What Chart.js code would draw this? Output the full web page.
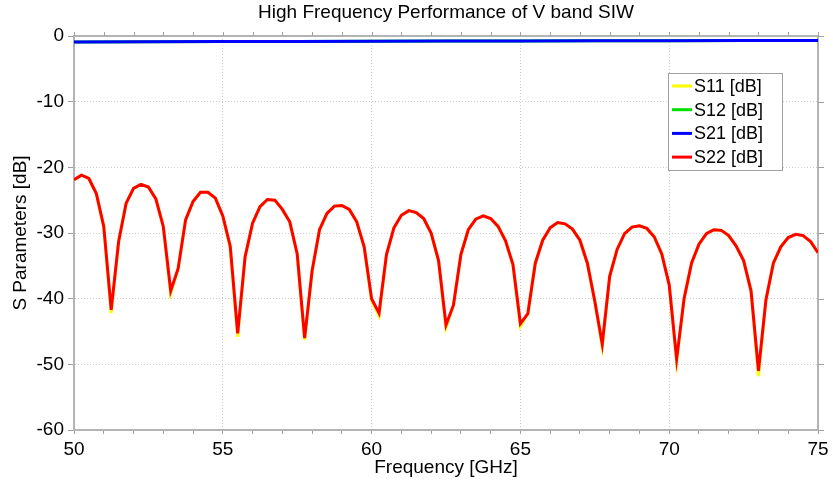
<!DOCTYPE html>
<html><head><meta charset="utf-8">
<script src="https://cdn.jsdelivr.net/npm/chart.js@4"></script>
<style>html,body{margin:0;padding:0;background:#fff;}#wrap{width:833px;height:486px;}</style>
</head><body><div id="wrap"><canvas id="c" width="833" height="486"></canvas></div>
<script>
const seriesLabels = ['S11 [dB]', 'S12 [dB]', 'S21 [dB]', 'S22 [dB]'];
const freqGHz = [50,50.25,50.5,50.75,51,51.25,51.5,51.75,52,52.25,52.5,52.75,53,53.25,53.5,53.75,54,54.25,54.5,54.75,
55,55.25,55.5,55.75,56,56.25,56.5,56.75,57,57.25,57.5,57.75,58,58.25,58.5,58.75,59,59.25,59.5,59.75,
60,60.25,60.5,60.75,61,61.25,61.5,61.75,62,62.25,62.5,62.75,63,63.25,63.5,63.75,64,64.25,64.5,64.75,
65,65.25,65.5,65.75,66,66.25,66.5,66.75,67,67.25,67.5,67.75,68,68.25,68.5,68.75,69,69.25,69.5,69.75,
70,70.25,70.5,70.75,71,71.25,71.5,71.75,72,72.25,72.5,72.75,73,73.25,73.5,73.75,74,74.25,74.5,74.75,75];
const s22 = [-21.9,-21.2,-21.7,-24.0,-29.0,-41.7,-31.3,-25.5,-23.2,-22.6,-23.0,-24.8,-29.0,-38.8,-35.4,-28.0,-25.2,-23.8,-23.8,-24.7,
-27.4,-32.0,-45.3,-33.6,-28.5,-26.0,-24.9,-25.0,-26.4,-28.3,-33.2,-46.0,-35.8,-29.5,-27.0,-25.9,-25.8,-26.4,-28.3,-32.1,
-40.0,-42.2,-33.3,-29.2,-27.3,-26.6,-26.9,-27.8,-30.0,-34.2,-44.0,-41.0,-33.3,-29.5,-27.9,-27.4,-27.8,-29.0,-31.2,-34.8,
-43.8,-42.3,-34.6,-31.1,-29.2,-28.4,-28.6,-29.4,-31.1,-34.6,-40.4,-46.9,-36.6,-32.5,-30.1,-29.1,-28.9,-29.3,-30.6,-33.2,
-37.9,-49.2,-40.0,-34.6,-31.7,-30.1,-29.5,-29.6,-30.4,-32.0,-34.2,-38.8,-51.0,-40.2,-34.6,-32.1,-30.7,-30.2,-30.4,-31.3,-33.0];
const s11 = [-21.9,-21.2,-21.7,-24.0,-29.0,-42.2,-31.3,-25.5,-23.2,-22.6,-23.0,-24.8,-29.0,-39.2,-35.4,-28.0,-25.2,-23.8,-23.8,-24.7,
-27.4,-32.3,-45.8,-33.6,-28.5,-26.0,-24.9,-25.0,-26.4,-28.3,-33.2,-46.3,-35.8,-29.5,-27.0,-25.9,-25.8,-26.4,-28.3,-32.1,
-40.3,-42.6,-33.3,-29.2,-27.3,-26.6,-26.9,-27.8,-30.0,-34.2,-44.4,-41.0,-33.3,-29.5,-27.9,-27.4,-27.8,-29.0,-31.2,-34.8,
-44.2,-42.3,-34.6,-31.1,-29.2,-28.4,-28.6,-29.4,-31.1,-34.6,-40.4,-47.3,-36.6,-32.5,-30.1,-29.1,-28.9,-29.3,-30.6,-33.2,
-37.9,-49.6,-40.0,-34.6,-31.7,-30.1,-29.5,-29.6,-30.4,-32.0,-34.2,-38.8,-51.8,-40.2,-34.6,-32.1,-30.7,-30.2,-30.4,-31.3,-33.0];
const freqThru = [50,52.5,55,57.5,60,62.5,65,67.5,70,72.5,75];
const s21 = [-0.9,-0.88,-0.85,-0.82,-0.8,-0.78,-0.75,-0.72,-0.72,-0.7,-0.7];
const s12 = [-0.9,-0.88,-0.85,-0.82,-0.8,-0.78,-0.75,-0.72,-0.72,-0.7,-0.7];
const xTicksMajor = [50,55,60,65,70,75];
const yTicks = [0,-10,-20,-30,-40,-50,-60];

const FONT = "'Liberation Sans', Arial, sans-serif";
const pts = (xs, ys) => xs.map((x, i) => ({x: x, y: ys[i]}));

const framePlugin = {
  id: 'frame',
  beforeDatasetsDraw(chart) {
    const {ctx, chartArea: a, scales: {x, y}} = chart;
    ctx.save();
    ctx.strokeStyle = '#b4b4b4';
    ctx.lineWidth = 2;
    ctx.beginPath();
    ctx.moveTo(a.left - 1, a.top); ctx.lineTo(a.right + 1, a.top);
    ctx.moveTo(a.right, a.top); ctx.lineTo(a.right, a.bottom + 1);
    ctx.stroke();
    ctx.strokeStyle = '#a0a0a0';
    ctx.lineWidth = 1;
    ctx.beginPath();
    x.ticks.forEach(t => { const px = Math.round(x.getPixelForValue(t.value)) + 0.5; ctx.moveTo(px, a.top); ctx.lineTo(px, a.top - 4); });
    y.ticks.forEach(t => { const py = Math.round(y.getPixelForValue(t.value)) + 0.5; ctx.moveTo(a.right, py); ctx.lineTo(a.right + 6, py); });
    ctx.stroke();
    ctx.restore();
  }
};

const legendPlugin = {
  id: 'boxLegend',
  afterDraw(chart) {
    const {ctx} = chart;
    const bx = 668, by = 73, bw = 114, bh = 97;
    ctx.save();
    ctx.fillStyle = '#fff';
    ctx.fillRect(bx, by, bw, bh);
    ctx.strokeStyle = '#a0a0a0';
    ctx.lineWidth = 1;
    ctx.strokeRect(bx + 0.5, by + 0.5, bw, bh);
    ctx.font = "18px " + FONT;
    ctx.textBaseline = 'middle';
    ctx.textAlign = 'left';
    seriesLabels.forEach((lab, i) => {
      const ds = chart.data.datasets.find(d => d.label === lab);
      const yy = by + 13 + i * 23.7;
      ctx.strokeStyle = ds.borderColor;
      ctx.lineWidth = 3;
      ctx.beginPath(); ctx.moveTo(bx + 4, yy); ctx.lineTo(bx + 24, yy); ctx.stroke();
      ctx.fillStyle = '#000';
      ctx.fillText(lab, bx + 26, yy + 1);
    });
    ctx.restore();
  }
};

new Chart(document.getElementById('c'), {
  type: 'line',
  data: {
    datasets: [
      {label: seriesLabels[0], data: pts(freqGHz, s11), borderColor: '#ffff00', order: 3},
      {label: seriesLabels[1], data: pts(freqThru, s12), borderColor: '#00e000', order: 4},
      {label: seriesLabels[2], data: pts(freqThru, s21), borderColor: '#0000ff', order: 2},
      {label: seriesLabels[3], data: pts(freqGHz, s22), borderColor: '#ff0000', order: 1}
    ]
  },
  options: {
    responsive: false,
    animation: false,
    elements: {point: {radius: 0}, line: {borderWidth: 3, tension: 0}},
    layout: {padding: {left: 0, right: 15, top: 0, bottom: 0}},
    plugins: {
      legend: {display: false},
      tooltip: {enabled: false},
      title: {display: true, text: 'High Frequency Performance of V band SIW', color: '#000',
        font: {family: FONT, size: 19, weight: 'normal'}, padding: {top: 1, bottom: 12.2}, fullSize: false}
    },
    scales: {
      x: {
        type: 'linear', min: 50, max: 75,
        afterFit(s) { s.height = 56; },
        ticks: {stepSize: 1, autoSkip: false, maxRotation: 0, color: '#000', padding: 4,
          font: {family: FONT, size: 19},
          callback: v => xTicksMajor.includes(v) ? String(v) : ''},
        grid: {
          color: c => (c.tick && xTicksMajor.includes(c.tick.value) && c.tick.value > 50 && c.tick.value < 75) ? '#cfcfcf' : 'rgba(0,0,0,0)',
          lineWidth: 1, tickLength: 4, tickColor: '#a0a0a0', tickWidth: 1
        },
        border: {display: true, color: '#b4b4b4', width: 2, dash: [1, 2]},
        title: {display: true, text: 'Frequency [GHz]', color: '#000', font: {family: FONT, size: 19}, padding: {top: 0, bottom: 6.6}}
      },
      y: {
        type: 'linear', min: -60, max: 0,
        afterFit(s) { s.width = 74; },
        afterBuildTicks(s) { s.ticks = yTicks.slice().reverse().map(v => ({value: v})); },
        ticks: {color: '#000', padding: 4, font: {family: FONT, size: 19}},
        grid: {
          color: c => (c.tick && c.tick.value > -60 && c.tick.value < 0) ? '#cfcfcf' : 'rgba(0,0,0,0)',
          lineWidth: 1, tickLength: 6, tickColor: '#a0a0a0', tickWidth: 1
        },
        border: {display: true, color: '#b4b4b4', width: 2, dash: [1, 2]},
        title: {display: true, text: 'S Parameters [dB]', color: '#000', font: {family: FONT, size: 19}, padding: {top: 9.6, bottom: 0}}
      }
    }
  },
  plugins: [framePlugin, legendPlugin]
});
</script></body></html>
